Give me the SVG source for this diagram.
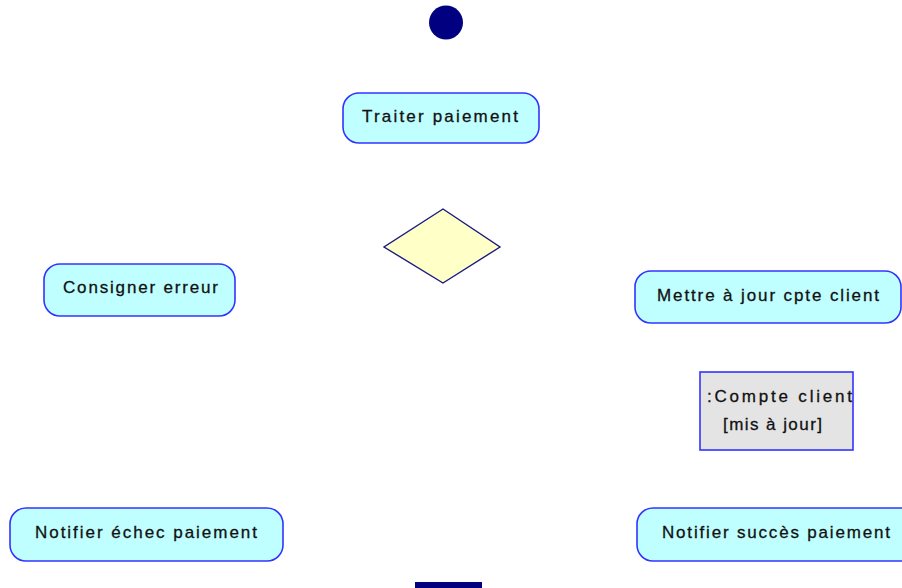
<svg xmlns="http://www.w3.org/2000/svg" width="902" height="588" viewBox="0 0 902 588">
<style>
.act{fill:#c0ffff;stroke:#3333ff;stroke-width:1.6}
.obj{fill:#e4e4e4;stroke:#3333ff;stroke-width:1.6}
.dec{fill:#ffffc8;stroke:#1a1a80;stroke-width:1.4}
.lbl{font-family:"Liberation Sans",Arial,sans-serif;font-size:17px;fill:#111;stroke:#111;stroke-width:0.3;text-anchor:start}
.start{fill:#000080}
</style>
<rect width="902" height="588" fill="#fff"/>
<g id="connectors"></g>
<g id="start"><circle class="start" cx="446" cy="22.5" r="17"/></g>
<g id="traiter"><rect class="act" x="343" y="93" width="196" height="50" rx="16"/><text class="lbl" x="362" y="122" textLength="156" lengthAdjust="spacing">Traiter paiement</text></g>
<g id="decision"><polygon class="dec" points="443,209 500,247 443,283 384,247"/></g>
<g id="consigner"><rect class="act" x="44" y="264" width="191" height="52" rx="16"/><text class="lbl" x="63" y="293" textLength="155" lengthAdjust="spacing">Consigner erreur</text></g>
<g id="mettre"><rect class="act" x="635" y="271" width="266" height="52" rx="16"/><text class="lbl" x="657" y="301" textLength="222" lengthAdjust="spacing">Mettre à jour cpte client</text></g>
<g id="compte"><rect class="obj" x="700" y="372" width="153" height="78"/><text class="lbl" x="707" y="402" textLength="145" lengthAdjust="spacing">:Compte client</text><text class="lbl" x="723" y="430" textLength="99" lengthAdjust="spacing">[mis à jour]</text></g>
<g id="echec"><rect class="act" x="10" y="508" width="273" height="53" rx="16"/><text class="lbl" x="35" y="538" textLength="222" lengthAdjust="spacing">Notifier échec paiement</text></g>
<g id="succes"><rect class="act" x="637" y="508" width="280" height="53" rx="16"/><text class="lbl" x="662" y="538" textLength="228" lengthAdjust="spacing">Notifier succès paiement</text></g>
<g id="end"><rect class="start" x="415" y="582" width="67" height="8"/></g>
</svg>
